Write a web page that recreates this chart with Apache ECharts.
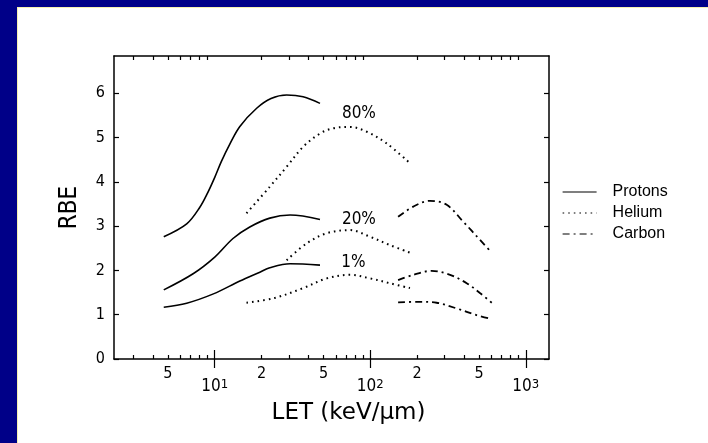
<!DOCTYPE html>
<html><head><meta charset="utf-8">
<script src="https://cdn.jsdelivr.net/npm/echarts@6/dist/echarts.min.js"></script>
<style>html,body{margin:0;padding:0;background:#fff}#c{width:708px;height:443px}</style>
</head><body><div id="c"></div>
<script>
// ---- data (LET in keV/um, RBE) ----
const protonLET80 = [4.7, 6.6, 8.0, 9.0, 10, 11, 12.5, 14.5, 18.6, 23, 29, 37, 47.5];
const protonRBE80 = [2.76, 3.05, 3.42, 3.75, 4.1, 4.45, 4.85, 5.25, 5.66, 5.88, 5.96, 5.92, 5.77];
const protonLET20 = [4.7, 7.3, 10, 13.1, 16.8, 22.6, 30.5, 47.5];
const protonRBE20 = [1.56, 1.93, 2.3, 2.72, 2.98, 3.18, 3.25, 3.15];
const protonLET1 = [4.7, 6.6, 9.8, 14.5, 19.5, 22.6, 30.5, 47.5];
const protonRBE1 = [1.17, 1.26, 1.47, 1.76, 1.96, 2.06, 2.15, 2.12];
const heliumLET80 = [16, 22.6, 29, 37, 47.5, 58, 74, 95, 127, 180];
const heliumRBE80 = [3.29, 3.89, 4.34, 4.79, 5.09, 5.21, 5.24, 5.13, 4.87, 4.42];
const heliumLET20 = [29, 39, 52.5, 74, 99.5, 134, 180];
const heliumRBE20 = [2.23, 2.61, 2.84, 2.91, 2.76, 2.57, 2.40];
const heliumLET1 = [16, 23.8, 37, 52.5, 74, 99.5, 134, 180];
const heliumRBE1 = [1.27, 1.37, 1.60, 1.82, 1.90, 1.82, 1.71, 1.60];
const carbonLET80 = [151, 189, 242, 310, 396, 507, 604];
const carbonRBE80 = [3.21, 3.44, 3.57, 3.48, 3.10, 2.69, 2.40];
const carbonLET20 = [151, 189, 248, 326, 417, 507, 604];
const carbonRBE20 = [1.78, 1.90, 1.99, 1.90, 1.71, 1.49, 1.27];
const carbonLET1 = [151, 209, 267, 360, 483, 574];
const carbonRBE1 = [1.28, 1.29, 1.27, 1.14, 0.99, 0.92];

const levelLabels = ['80%', '20%', '1%'];
const levelLabelLET = [84.5, 84.5, 78];
const levelLabelRBE = [5.55, 3.14, 2.17];

const legendNames = ['Protons', 'Helium', 'Carbon'];
const xRange = [2.25, 1410];
const yTicks = [0, 1, 2, 3, 4, 5, 6];
const yMax = 6.84;
const minorTickLET = [3,4,5,6,7,8,9,20,30,40,50,60,70,80,90,200,300,400,500,600,700,800,900];
const majorTickLET = [10, 100, 1000];
const smallLabelLET = [5, 20, 50, 200, 500];
const smallLabelText = ['5', '2', '5', '2', '5'];
const decadeLabelLET = [10, 100, 1000];
const decadeExp = ['1', '2', '3'];

// ---- build ----
const lg = Math.log10;
const pts = (L, R) => L.map((x, i) => [lg(x), R[i]]);
const narrow = '"DejaVu Sans Condensed", "Liberation Sans Narrow", "Liberation Sans", sans-serif';
const regular = '"Liberation Sans", Arial, sans-serif';
const wide = '"DejaVu Sans", "Liberation Sans", sans-serif';
const findIdx = (arr, v) => arr.findIndex(a => Math.abs(lg(a) - v) < 1e-6);

const styles = {
  Protons: {type: 'solid', width: 1.6},
  Helium: {type: [1.6, 4], width: 2},
  Carbon: {type: [7, 4, 2, 4], width: 1.8}
};
function mk(name, L, R, li) {
  const s = {
    name, type: 'line', data: pts(L, R), smooth: 0.35, symbol: 'none',
    lineStyle: Object.assign({color: '#000'}, styles[name]), itemStyle: {color: '#000'},
    xAxisIndex: 0, yAxisIndex: 0, silent: true, z: 3
  };
  if (li !== undefined) {
    s.markPoint = {
      symbol: 'circle', symbolSize: 0, silent: true,
      label: {show: true, position: 'inside', color: '#000', fontFamily: narrow, fontSize: 17, formatter: p => p.name},
      data: [{name: levelLabels[li], coord: [lg(levelLabelLET[li]), levelLabelRBE[li]]}]
    };
  }
  return s;
}

const baseX = {
  type: 'value', min: lg(xRange[0]), max: lg(xRange[1]), splitLine: {show: false},
  axisLine: {show: true, onZero: false, lineStyle: {color: '#000', width: 1.5}}
};
const xAxes = [
  Object.assign({}, baseX, {
    position: 'bottom',
    axisTick: {show: true, inside: true, length: 4, customValues: minorTickLET.map(lg), lineStyle: {color: '#000', width: 1.2}},
    axisLabel: {show: true, margin: 7, customValues: smallLabelLET.map(lg), color: '#000', fontFamily: narrow, fontSize: 16,
      formatter: v => smallLabelText[findIdx(smallLabelLET, v)]}
  }),
  Object.assign({}, baseX, {
    position: 'bottom', axisLine: {show: false},
    axisTick: {show: true, inside: true, length: 9, customValues: majorTickLET.map(lg), lineStyle: {color: '#000', width: 1.2}},
    axisLabel: {show: true, margin: 19, customValues: decadeLabelLET.map(lg), color: '#000',
      formatter: v => '{b|10}{s|' + decadeExp[findIdx(decadeLabelLET, v)] + '}',
      rich: {b: {fontFamily: narrow, fontSize: 17, color: '#000', lineHeight: 18},
             s: {fontFamily: narrow, fontSize: 13, color: '#000', verticalAlign: 'top', lineHeight: 13}}},
    name: 'LET (keV/μm)', nameLocation: 'middle', nameGap: 43,
    nameTextStyle: {fontFamily: wide, fontSize: 23, color: '#000', padding: [0, 0, 0, 34]}
  }),
  Object.assign({}, baseX, {
    position: 'top',
    axisTick: {show: true, inside: true, length: 4, customValues: minorTickLET.map(lg), lineStyle: {color: '#000', width: 1.2}},
    axisLabel: {show: false}
  }),
  Object.assign({}, baseX, {
    position: 'top', axisLine: {show: false},
    axisTick: {show: true, inside: true, length: 9, customValues: majorTickLET.map(lg), lineStyle: {color: '#000', width: 1.2}},
    axisLabel: {show: false}
  })
];
const baseY = {
  type: 'value', min: 0, max: yMax, splitLine: {show: false},
  axisLine: {show: true, onZero: false, lineStyle: {color: '#000', width: 1.5}},
  axisTick: {show: true, inside: true, length: 5, customValues: yTicks, lineStyle: {color: '#000', width: 1.2}}
};
const yAxes = [
  Object.assign({}, baseY, {
    position: 'left',
    axisLabel: {show: true, margin: 9, customValues: yTicks, color: '#000', fontFamily: narrow, fontSize: 16},
    name: 'RBE', nameLocation: 'middle', nameGap: 32, nameRotate: 90,
    nameTextStyle: {fontFamily: narrow, fontSize: 24, color: '#000'}
  }),
  Object.assign({}, baseY, {position: 'right', axisLabel: {show: false}})
];

const chart = echarts.init(document.getElementById('c'), null, {renderer: 'canvas'});
chart.setOption({
  animation: false,
  backgroundColor: '#fff',
  grid: {left: 114, right: 159, top: 56, bottom: 84},
  xAxis: xAxes,
  yAxis: yAxes,
  legend: {
    data: legendNames, orient: 'vertical', left: 557, top: 179,
    itemWidth: 34, itemHeight: 12, itemGap: 5,
    itemStyle: {opacity: 0},
    lineStyle: {width: 1.2},
    textStyle: {fontFamily: regular, fontSize: 16, color: '#000', padding: [0, 0, 0, 11]}
  },
  graphic: [
    {type: 'rect', shape: {x: 0, y: 0, width: 17, height: 443}, style: {fill: '#000088'}, z: 100},
    {type: 'rect', shape: {x: 0, y: 0, width: 708, height: 7}, style: {fill: '#000088'}, z: 100},
    {type: 'rect', shape: {x: 17, y: 7, width: 1, height: 436}, style: {fill: '#f4f0b0'}, z: 100},
    {type: 'rect', shape: {x: 17, y: 7, width: 691, height: 1}, style: {fill: '#f4f0b0'}, z: 100}
  ],
  series: [
    mk('Protons', protonLET80, protonRBE80),
    mk('Protons', protonLET20, protonRBE20),
    mk('Protons', protonLET1, protonRBE1),
    mk('Helium', heliumLET80, heliumRBE80, 0),
    mk('Helium', heliumLET20, heliumRBE20, 1),
    mk('Helium', heliumLET1, heliumRBE1, 2),
    mk('Carbon', carbonLET80, carbonRBE80),
    mk('Carbon', carbonLET20, carbonRBE20),
    mk('Carbon', carbonLET1, carbonRBE1)
  ]
});
</script></body></html>
